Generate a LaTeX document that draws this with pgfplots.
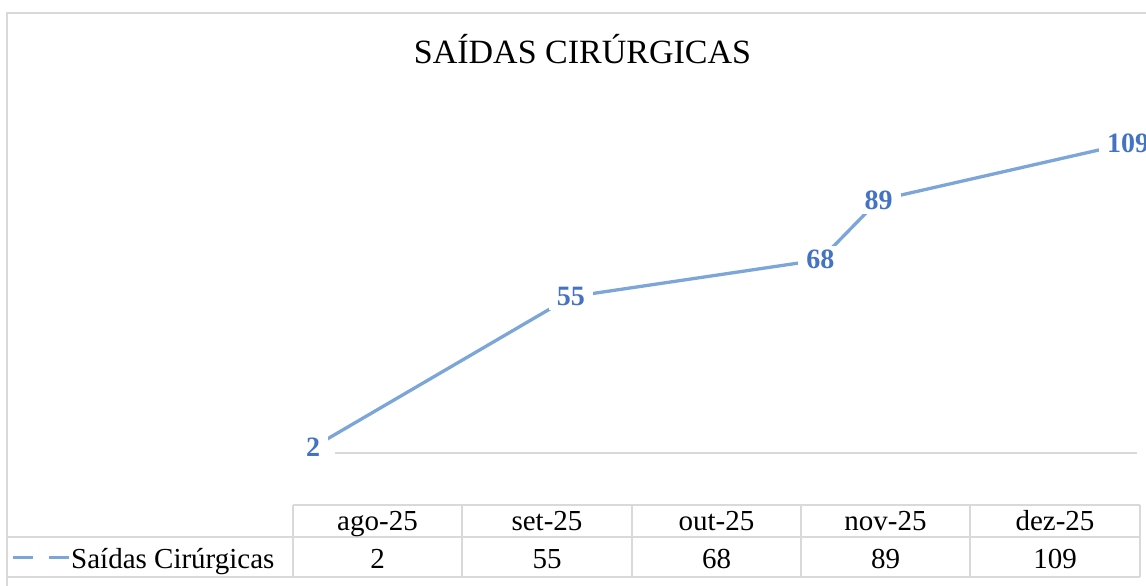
\documentclass[border=0pt]{standalone}
\usepackage{fontspec}
\setmainfont{Liberation Serif}
\usepackage{pgfplots}
\pgfplotsset{compat=1.18}
\definecolor{lineblue}{RGB}{124,166,216}
\definecolor{labelblue}{RGB}{68,114,196}
\definecolor{gridgray}{RGB}{217,217,217}
\begin{document}
\begin{tikzpicture}[x=1pt,y=1pt]
\useasboundingbox (0,0) rectangle (1146,586);
% outer chart border
\draw[gridgray, line width=1.3pt] (7,-20) -- (7,573) -- (1170,573);
% title
\node[anchor=base, inner sep=0pt, font=\fontsize{34}{34}\selectfont] at (582.5,522) {SAÍDAS CIRÚRGICAS};
\begin{axis}[
  at={(335pt,133pt)}, anchor=south west,
  scale only axis, width=802pt, height=340.9pt,
  xmin=2.645, xmax=99.08, ymin=0, ymax=120,
  hide axis, clip=false,
  /pgf/number format/assume math mode=true,
  nodes near coords,
  every node near coord/.append style={anchor=center, font=\fontsize{28}{30}\selectfont\bfseries, text=labelblue, fill=white, inner xsep=8pt, inner ysep=4pt},
]
\draw[gridgray, line width=2pt] (rel axis cs:0,0) -- (rel axis cs:1,0);
\addplot[lineblue, line width=3.3pt, mark=none] coordinates {(0,2) (31,55) (61,68) (68,89) (98,109)};
\end{axis}
% data table
\draw[gridgray, line width=1.5pt] (293,81) -- (1140,81);
\draw[gridgray, line width=1.5pt] (7,49) -- (1140,49);
\draw[gridgray, line width=1.5pt] (7,9) -- (1140,9);
\foreach \xx in {293,462,632,801,970,1140} {
  \draw[gridgray, line width=1.5pt] (\xx,9) -- (\xx,81);
}
\foreach \cx/\cat/\val in {377.5/ago-25/2, 547/set-25/55, 716.5/out-25/68, 885.5/nov-25/89, 1055/dez-25/109} {
  \node[anchor=base, inner sep=0pt, font=\fontsize{29}{29}\selectfont] at (\cx,55.3) {\cat};
  \node[anchor=base, inner sep=0pt, font=\fontsize{29}{29}\selectfont] at (\cx,17.7) {\val};
}
% legend key
\draw[lineblue, line width=3pt, dash pattern=on 20pt off 16pt] (13,28.3) -- (69,28.3);
\node[anchor=base west, inner sep=0pt, font=\fontsize{29}{29}\selectfont] at (71,17.7) {Saídas Cirúrgicas};
\end{tikzpicture}
\end{document}
